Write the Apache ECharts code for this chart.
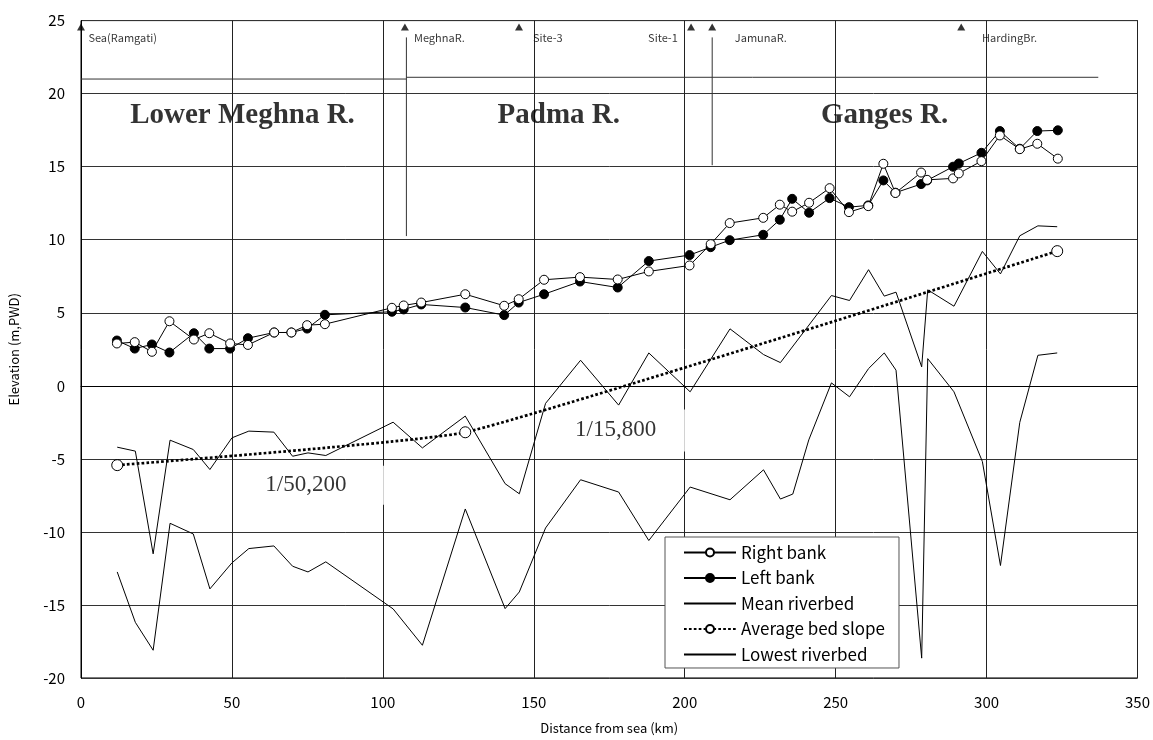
<!DOCTYPE html>
<html>
<head>
<meta charset="utf-8">
<title>Longitudinal profile</title>
<script src="https://cdn.jsdelivr.net/npm/echarts@6/dist/echarts.min.js"></script>
<style>
html, body { margin: 0; padding: 0; background: #fff; }
#chart { width: 1153px; height: 740px; }
</style>
</head>
<body>
<div id="chart"></div>
<script>
// bank survey stations (km from sea) and bank levels (m, PWD)
var bankKm = [11.9, 17.8, 23.5, 29.3, 37.4, 42.5, 49.4, 55.3, 64.0, 69.7, 74.9, 80.8,
  103.0, 106.9, 112.7, 127.3, 140.2, 145.0, 153.4, 165.3, 177.8, 188.1,
  201.6, 208.6, 214.9, 226.0, 231.5, 235.6, 241.2, 248.0, 254.4, 260.8,
  265.8, 269.8, 278.3, 280.3, 288.9, 290.8, 298.3, 304.4, 311.0, 316.8, 323.6];
var rightBank = [2.90, 2.99, 2.33, 4.42, 3.17, 3.60, 2.90, 2.80, 3.65, 3.65, 4.15, 4.22,
  5.34, 5.50, 5.70, 6.27, 5.48, 5.93, 7.26, 7.44, 7.28, 7.83,
  8.24, 9.70, 11.14, 11.50, 12.40, 11.92, 12.53, 13.53, 11.89, 12.30,
  15.20, 13.20, 14.60, 14.10, 14.20, 14.54, 15.38, 17.14, 16.20, 16.57, 15.55];
var leftBank = [3.10, 2.55, 2.83, 2.28, 3.60, 2.55, 2.55, 3.26, 3.65, 3.65, 3.92, 4.86,
  5.07, 5.23, 5.57, 5.36, 4.84, 5.70, 6.27, 7.14, 6.73, 8.54,
  8.95, 9.49, 9.97, 10.34, 11.37, 12.80, 11.85, 12.85, 12.23, 12.35,
  14.06, 13.22, 13.81, 14.06, 15.00, 15.22, 15.95, 17.44, 16.23, 17.44, 17.49];

// riverbed stations
var bedKm = [12.0, 18.0, 23.9, 29.5, 37.2, 42.7, 50.0, 55.6, 63.9, 70.1, 75.2, 81.1,
  103.4, 113.1, 127.3, 140.5, 145.2, 153.9, 165.5, 178.1, 188.1, 201.8,
  215.0, 226.1, 231.7, 235.8, 241.1, 248.6, 254.6, 260.9, 266.1, 270.0,
  278.5, 280.5, 289.2, 298.6, 304.6, 311.0, 317.0, 323.4];
var meanBed = [-4.20, -4.47, -11.50, -3.72, -4.36, -5.73, -3.56, -3.10, -3.17, -4.82, -4.59, -4.77,
  -2.49, -4.25, -2.07, -6.70, -7.39, -1.20, 1.75, -1.32, 2.25, -0.41,
  3.90, 2.14, 1.59, null, null, 6.18, 5.84, 7.95, 6.14, 6.41,
  1.30, 6.57, 5.45, 9.20, 7.66, 10.27, 10.95, 10.89];
var lowBed = [-12.74, -16.19, -18.10, -9.41, -10.14, -13.90, -12.12, -11.14, -10.96, -12.35, -12.74, -12.05,
  -15.27, -17.76, -8.43, -15.25, -14.11, -9.73, -6.43, -7.27, -10.59, -6.93,
  -7.80, -5.75, -7.75, -7.41, -3.70, 0.20, -0.75, 1.18, 2.25, 1.07,
  -18.64, 1.86, -0.41, -5.18, -12.30, -2.50, 2.09, 2.25];

// average bed slope
var slopeKm = [12.0, 127.3, 323.4];
var slopeVal = [-5.43, -3.18, 9.22];

// landmarks along the river (triangles at the top)
var siteNames = ['Sea(Ramgati)', 'MeghnaR.', 'Site-3', 'Site-1', 'JamunaR.', 'HardingBr.'];
var siteKm = [0, 107.3, 145.1, 202.1, 209.1, 291.6];
var siteTextKm = [2.45, 110.3, 149.7, 197.7, 216.6, 298.5];
var siteAlign = ['left', 'left', 'left', 'right', 'left', 'left'];

// reaches
var reachNames = ['Lower Meghna R.', 'Padma R.', 'Ganges R.'];
var reachKm = [53.5, 158.3, 266.2];

// slope notes: text, box left (km), box middle (m)
var noteText = ['1/50,200', '1/15,800'];
var noteKm = [56.1, 158.7];
var noteVal = [-6.81, -3.05];

// guide lines (reach boundary and confluences)
var guides = [
  [[0, 21.0], [107.8, 21.0]],
  [[107.8, 21.12], [337, 21.12]],
  [[107.8, 23.85], [107.8, 10.25]],
  [[209.1, 23.85], [209.1, 15.1]]
];

var SANS = "'Noto Sans CJK JP', 'Noto Sans', sans-serif";
var SERIF = "'Liberation Serif', 'DejaVu Serif', serif";

function pairs(xs, ys) {
  return xs.map(function (x, i) { return [x, ys[i]]; });
}

var series = [
  {
    name: 'Right bank', type: 'line', data: pairs(bankKm, rightBank),
    symbol: 'circle', symbolSize: 9, z: 4,
    itemStyle: { color: '#fff', borderColor: '#000', borderWidth: 1 },
    lineStyle: { color: '#000', width: 1 }
  },
  {
    name: 'Left bank', type: 'line', data: pairs(bankKm, leftBank),
    symbol: 'circle', symbolSize: 9, z: 3,
    itemStyle: { color: '#000', borderColor: '#000', borderWidth: 1 },
    lineStyle: { color: '#000', width: 1 }
  },
  {
    name: 'Mean riverbed', type: 'line', data: pairs(bedKm, meanBed),
    symbol: 'none', connectNulls: true,
    itemStyle: { color: '#000' },
    lineStyle: { color: '#000', width: 1 }
  },
  {
    name: 'Average bed slope', type: 'line', data: pairs(slopeKm, slopeVal),
    symbol: 'circle', symbolSize: 11, smooth: 0.12, z: 3,
    itemStyle: { color: '#fff', borderColor: '#000', borderWidth: 1 },
    lineStyle: { color: '#000', width: 2.7, type: [2.7, 2.2] }
  },
  {
    name: 'Lowest riverbed', type: 'line', data: pairs(bedKm, lowBed),
    symbol: 'none',
    itemStyle: { color: '#000' },
    lineStyle: { color: '#000', width: 1 }
  }
];

guides.forEach(function (seg) {
  series.push({
    type: 'line', data: seg, symbol: 'none', silent: true,
    lineStyle: { color: '#333', width: 1 }
  });
});

series.push({
  type: 'scatter', silent: true, clip: false,
  symbol: 'triangle', symbolSize: [8, 7],
  itemStyle: { color: '#000' },
  data: siteKm.map(function (k) { return [k, 24.56]; })
});

series.push({
  type: 'scatter', silent: true, clip: false, symbolSize: 0,
  data: siteTextKm.map(function (k, i) {
    return {
      value: [k, 23.83],
      label: { formatter: siteNames[i], align: siteAlign[i] }
    };
  }),
  label: {
    show: true, position: 'inside', verticalAlign: 'middle',
    color: '#000', fontSize: 11, fontFamily: SANS
  }
});

series.push({
  type: 'scatter', silent: true, symbolSize: 0,
  data: reachKm.map(function (k, i) {
    return { value: [k, 18.49], label: { formatter: reachNames[i] } };
  }),
  label: {
    show: true, position: 'inside', align: 'center', verticalAlign: 'middle',
    color: '#000', fontSize: 29, fontWeight: 'bold', fontFamily: SERIF
  }
});

series.push({
  type: 'scatter', silent: true, symbolSize: 0, z: 5,
  data: noteKm.map(function (k, i) {
    return {
      value: [k, noteVal[i]],
      label: {
        formatter: noteText[i],
        padding: i === 0 ? [6, 40, 10, 15] : [6, 35, 13, 15]
      }
    };
  }),
  label: {
    show: true, position: 'inside', align: 'left', verticalAlign: 'middle',
    color: '#000', fontSize: 23, lineHeight: 23, fontFamily: SERIF,
    backgroundColor: '#fff'
  }
});

var plainLine = { color: 'rgba(0,0,0,0)', borderWidth: 0 };

var chart = echarts.init(document.getElementById('chart'));
chart.setOption({
  animation: false,
  backgroundColor: '#fff',
  textStyle: { fontFamily: SANS },
  grid: {
    left: 80, right: 14.5, top: 20.6, bottom: 59.1,
    show: true, borderColor: '#000', borderWidth: 1
  },
  legend: {
    data: [
      { name: 'Right bank' },
      { name: 'Left bank' },
      { name: 'Mean riverbed', itemStyle: plainLine },
      { name: 'Average bed slope' },
      { name: 'Lowest riverbed', itemStyle: plainLine }
    ],
    orient: 'vertical',
    left: 665, top: 537,
    padding: [7, 14, 5, 18],
    itemWidth: 52, itemHeight: 10, itemGap: 8.5,
    borderColor: '#555', borderWidth: 1, backgroundColor: '#fff',
    textStyle: { color: '#000', fontSize: 17, lineHeight: 16, fontFamily: SANS }
  },
  xAxis: {
    type: 'value', min: 0, max: 350, interval: 50,
    name: 'Distance from sea (km)', nameLocation: 'middle', nameGap: 44,
    nameTextStyle: { color: '#000', fontSize: 13, fontFamily: SANS },
    axisLine: { show: true, lineStyle: { color: '#000', width: 1 } },
    axisTick: { show: false },
    axisLabel: { color: '#000', fontSize: 15, margin: 17, fontFamily: SANS },
    splitLine: { show: true, lineStyle: { color: '#222', width: 1 } }
  },
  yAxis: {
    type: 'value', min: -20, max: 25, interval: 5,
    name: 'Elevation (m,PWD)', nameLocation: 'middle', nameGap: 60,
    nameTextStyle: { color: '#000', fontSize: 13, fontFamily: SANS },
    axisLine: { show: true, lineStyle: { color: '#000', width: 1 } },
    axisTick: { show: false },
    axisLabel: { color: '#000', fontSize: 15, margin: 16, fontFamily: SANS },
    splitLine: { show: true, lineStyle: { color: '#333', width: 1 } }
  },
  series: series
});
</script>
</body>
</html>
